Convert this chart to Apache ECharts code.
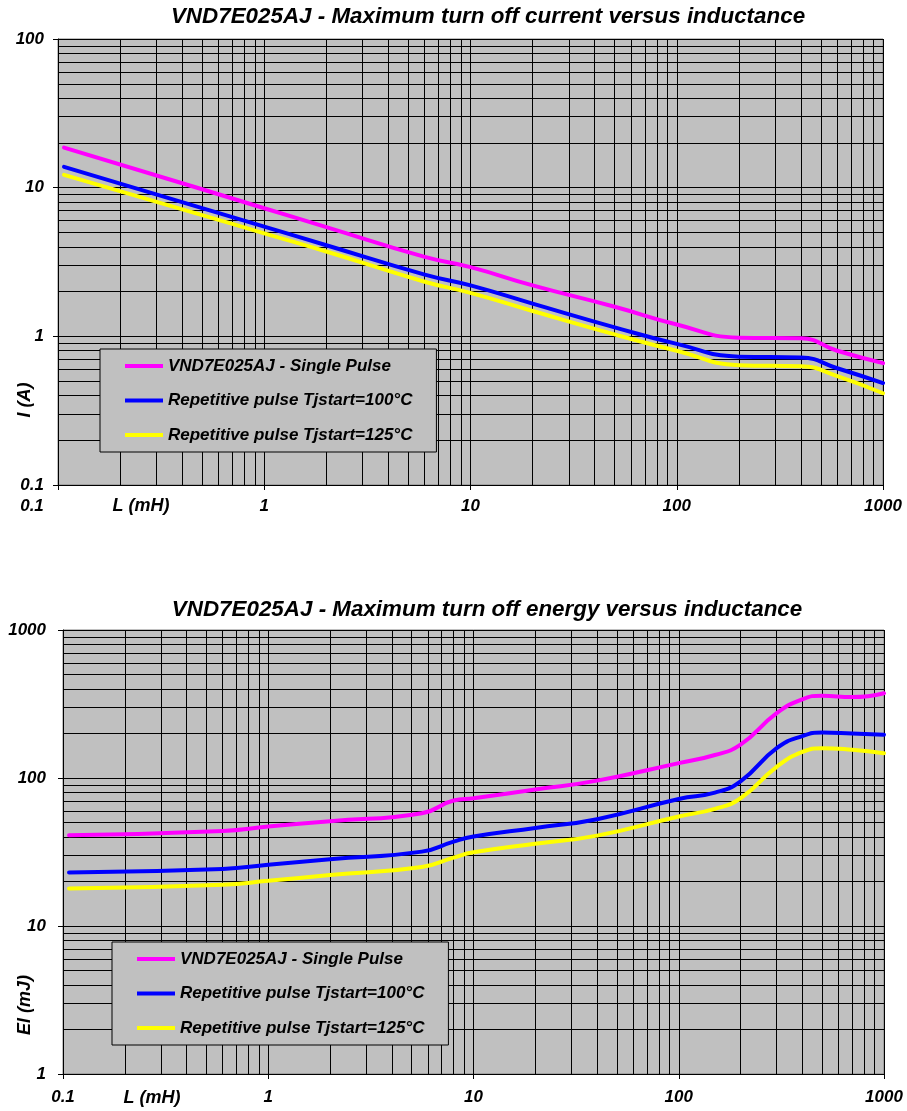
<!DOCTYPE html>
<html><head><meta charset="utf-8">
<script src="https://cdn.jsdelivr.net/npm/echarts@6/dist/echarts.min.js"></script>
<style>html,body{margin:0;padding:0;background:#fff}#c{width:907px;height:1111px}</style>
</head><body><div id="c"></div>
<script>
// ---- data ----
const seriesNames = ['VND7E025AJ - Single Pulse', 'Repetitive pulse Tjstart=100°C', 'Repetitive pulse Tjstart=125°C'];
const seriesColors = ['#FF00FF', '#0000FF', '#FFFF00'];

const titleCurrent = 'VND7E025AJ - Maximum turn off current versus inductance';
const titleEnergy = 'VND7E025AJ - Maximum turn off energy versus inductance';

// top chart: I (A) vs L (mH)
const currentL = [0.107, 0.5, 1, 2, 6, 10, 20, 50, 100, 200, 400, 600, 1000];
const currentSingle = [18.6, 9.76, 7.27, 5.43, 3.42, 2.92, 2.2, 1.58, 1.2, 0.98, 0.97, 0.80, 0.66];
const current100 = [13.8, 7.28, 5.47, 4.10, 2.60, 2.2, 1.66, 1.15, 0.89, 0.73, 0.72, 0.61, 0.485];
const current125 = [12.2, 6.54, 4.93, 3.72, 2.33, 1.96, 1.48, 1.03, 0.80, 0.64, 0.63, 0.54, 0.414];

// bottom chart: El (mJ) vs L (mH)
const energyL = [0.107, 0.6, 1, 2, 5.6, 8, 10, 20, 40, 100, 150, 200, 300, 400, 500, 700, 1000];
const energySingle = [41.1, 43.9, 47, 51.1, 57.8, 70.4, 73, 83.7, 96, 126, 143, 168, 274, 340, 360, 352, 374];
const energy100 = [23.0, 24.3, 25.9, 28.2, 31.8, 37.2, 40.2, 46.0, 52.7, 72.2, 79.7, 95, 159, 192, 203, 200, 196];
const energy125 = [17.9, 19.0, 20.2, 22.1, 25.0, 29.0, 31.5, 36.0, 40.8, 55.0, 61.9, 73, 119, 150, 159, 155, 147];

const xTickLabels = ['0.1', '1', '10', '100', '1000'];
const currentYTickLabels = ['0.1', '1', '10', '100'];
const energyYTickLabels = ['1', '10', '100', '1000'];
const xAxisName = 'L (mH)';
const currentYName = 'I (A)';
const energyYName = 'El (mJ)';

// ---- helpers ----
const FONT = '"Liberation Sans", Arial, sans-serif';
function pairs(xs, ys) { return xs.map((x, i) => [x, ys[i]]); }
function labelFmt(labels, shiftFirst) {
  return function (v) {
    for (let i = 0; i < labels.length; i++) {
      const l = labels[i];
      if (Math.abs(Number(l) - v) / Number(l) < 1e-6) return (shiftFirst && i === 0) ? '{s|' + l + '}' : l;
    }
    return '';
  };
}
function logLines(min, max) {
  const out = [];
  for (let d = min; d < max * 0.999; d *= 10) {
    for (let k = 1; k <= 9; k++) out.push(parseFloat((k * d).toPrecision(6)));
  }
  out.push(max);
  return out;
}
const labelStyle = { color: '#000', fontSize: 17, fontWeight: 'bold', fontStyle: 'italic', fontFamily: FONT };

function xAxisCfg(gridIndex, margin, shiftFirst) {
  return {
    type: 'log', logBase: 10, gridIndex, min: 0.1, max: 1000,
    splitLine: { show: false },
    axisLine: { show: true, lineStyle: { color: '#000', width: 1 } },
    axisTick: { show: true, inside: false, length: 5, lineStyle: { color: '#000' } },
    axisLabel: Object.assign({
      margin, formatter: labelFmt(xTickLabels, shiftFirst),
      rich: { s: Object.assign({ padding: [0, 52, 0, 0] }, labelStyle) }
    }, labelStyle)
  };
}
function yAxisCfg(gridIndex, min, max, labels, margin) {
  return {
    type: 'log', logBase: 10, gridIndex, min, max,
    splitLine: { show: false },
    axisLine: { show: true, lineStyle: { color: '#000', width: 1 } },
    axisTick: { show: true, inside: false, length: 5, lineStyle: { color: '#000' } },
    axisLabel: Object.assign({ margin, formatter: labelFmt(labels, false) }, labelStyle)
  };
}
function gridLinesSeries(idx, xmin, xmax, ymin, ymax) {
  const data = logLines(xmin, xmax).map(v => ({ xAxis: v }))
    .concat(logLines(ymin, ymax).map(v => ({ yAxis: v })));
  return {
    type: 'line', xAxisIndex: idx, yAxisIndex: idx, data: [[1, ymin * 2]], symbol: 'none',
    lineStyle: { opacity: 0 }, silent: true, z: 1, animation: false,
    markLine: {
      silent: true, z: 2, animation: false, symbol: ['none', 'none'],
      label: { show: false },
      lineStyle: { color: '#000', width: 1, type: 'solid', opacity: 1 },
      emphasis: { disabled: true },
      data
    }
  };
}
function curve(idx, name, color, xs, ys) {
  return {
    type: 'line', name, xAxisIndex: idx, yAxisIndex: idx, data: pairs(xs, ys),
    symbol: 'none', smooth: 0.5, z: 10, animation: false,
    lineStyle: { color, width: 4, cap: 'round' }, itemStyle: { color }
  };
}
function legendCfg(left, top) {
  return {
    orient: 'vertical', left, top, data: seriesNames,
    backgroundColor: '#C0C0C0', borderColor: '#000', borderWidth: 1,
    padding: [8, 24, 8, 25], itemGap: 16.5, itemWidth: 38, itemHeight: 14,
    icon: 'path://M0,0 L38,0 L38,4 L0,4 Z',
    selectedMode: false,
    textStyle: Object.assign({ lineHeight: 18 }, labelStyle)
  };
}
function textG(x, y, text, size, rot) {
  return {
    type: 'text', x, y, rotation: rot || 0, silent: true,
    style: { text, fill: '#000', font: 'italic bold ' + size + 'px ' + FONT, align: 'center', verticalAlign: 'middle' }
  };
}

const chart = echarts.init(document.getElementById('c'), null, { renderer: 'canvas' });
const opt = {
  backgroundColor: '#fff',
  animation: false,
  grid: [
    { left: 58, top: 39, width: 825, height: 446, show: true, backgroundColor: '#C0C0C0', borderColor: '#808080', borderWidth: 1 },
    { left: 63, top: 630, width: 821, height: 444, show: true, backgroundColor: '#C0C0C0', borderColor: '#808080', borderWidth: 1 }
  ],
  xAxis: [xAxisCfg(0, 13, true), xAxisCfg(1, 15, false)],
  yAxis: [yAxisCfg(0, 0.1, 100, currentYTickLabels, 14), yAxisCfg(1, 1, 1000, energyYTickLabels, 17)],
  legend: [legendCfg(100, 349), legendCfg(112, 942)],
  series: [
    gridLinesSeries(0, 0.1, 1000, 0.1, 100),
    gridLinesSeries(1, 0.1, 1000, 1, 1000),
    curve(0, seriesNames[0], seriesColors[0], currentL, currentSingle),
    curve(0, seriesNames[1], seriesColors[1], currentL, current100),
    curve(0, seriesNames[2], seriesColors[2], currentL, current125),
    curve(1, seriesNames[0], seriesColors[0], energyL, energySingle),
    curve(1, seriesNames[1], seriesColors[1], energyL, energy100),
    curve(1, seriesNames[2], seriesColors[2], energyL, energy125)
  ],
  graphic: [
    textG(488, 17, titleCurrent, 22.4),
    textG(487, 610, titleEnergy, 22.4),
    textG(141, 506, xAxisName, 18),
    textG(152, 1098, xAxisName, 18),
    textG(25, 400, currentYName, 18, Math.PI / 2),
    textG(25, 1005, energyYName, 18, Math.PI / 2)
  ]
};
chart.setOption(opt);
</script>
</body></html>
